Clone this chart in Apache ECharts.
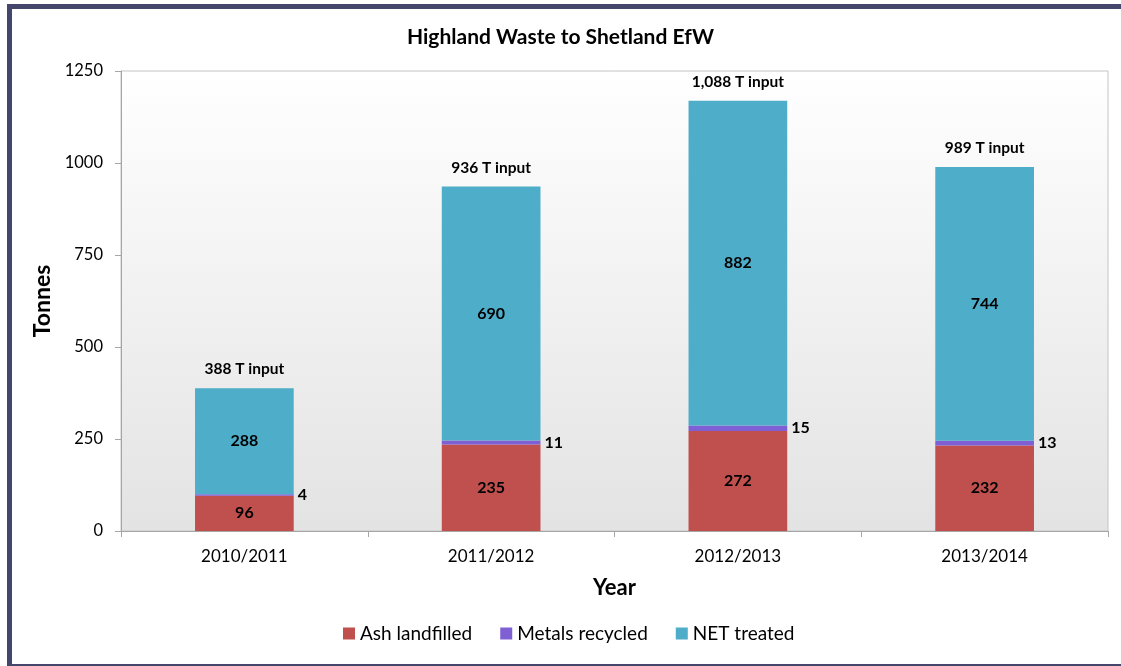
<!DOCTYPE html>
<html>
<head>
<meta charset="utf-8">
<script src="https://cdn.jsdelivr.net/npm/echarts@6/dist/echarts.min.js"></script>
<style>
  html, body { margin: 0; padding: 0; background: #fff; }
  #frame {
    position: absolute; left: 7px; top: 4px; width: 1114px; height: 662px;
    border-left: 5px solid #45466b; border-top: 5px solid #45466b;
    border-bottom: 2px solid #45466b; box-sizing: border-box;
  }
  #chart { position: absolute; left: 0; top: 0; width: 1121px; height: 666px; }
</style>
</head>
<body>
<div id="frame"></div>
<div id="chart"></div>
<script>
const years = ['2010/2011', '2011/2012', '2012/2013', '2013/2014']
const ashLandfilled = [96, 235, 272, 232]
const metalsRecycled = [4, 11, 15, 13]
const netTreated = [288, 690, 882, 744]
const inputLabels = ['388', '936', '1,088', '989']
const yTicks = { min: 0, max: 1250, interval: 250 }

const font = 'Lato'
const chart = echarts.init(document.getElementById('chart'))

const inside = {
  show: true,
  position: 'inside',
  color: '#000',
  fontFamily: font,
  fontWeight: 'bold',
  fontSize: 16
}

const option = {
  animation: false,
  textStyle: { fontFamily: font },
  title: {
    text: 'Highland Waste to Shetland EfW',
    left: 'center',
    top: 22,
    textStyle: { fontFamily: font, fontWeight: 'bold', fontSize: 21, color: '#000' }
  },
  legend: {
    bottom: 18,
    left: 338,
    itemWidth: 12,
    itemHeight: 12,
    itemGap: 28,
    icon: 'rect',
    data: ['Ash landfilled', 'Metals recycled', 'NET treated'],
    textStyle: { fontFamily: font, fontSize: 19, color: '#000' }
  },
  grid: {
    left: 121,
    right: 13,
    top: 71,
    bottom: 135,
    show: true,
    borderColor: '#c4c4c4',
    borderWidth: 1,
    backgroundColor: new echarts.graphic.LinearGradient(0, 0, 0, 1, [
      { offset: 0, color: '#ffffff' },
      { offset: 1, color: '#e3e3e3' }
    ])
  },
  xAxis: {
    type: 'category',
    data: years,
    name: 'Year',
    nameLocation: 'middle',
    nameGap: 46,
    nameTextStyle: { fontFamily: font, fontWeight: 'bold', fontSize: 22, color: '#000' },
    axisLine: { lineStyle: { color: '#a6a6a6' } },
    axisTick: { show: true, length: 6, lineStyle: { color: '#a6a6a6' } },
    axisLabel: { fontFamily: font, fontSize: 17, color: '#000', margin: 17 }
  },
  yAxis: {
    type: 'value',
    min: yTicks.min,
    max: yTicks.max,
    interval: yTicks.interval,
    name: 'Tonnes',
    nameLocation: 'middle',
    nameGap: 58,
    nameTextStyle: { fontFamily: font, fontWeight: 'bold', fontSize: 23, color: '#000' },
    axisLine: { show: true, lineStyle: { color: '#a6a6a6' } },
    axisTick: { show: true, length: 6, lineStyle: { color: '#a6a6a6' } },
    splitLine: { show: false },
    axisLabel: {
      fontFamily: font, fontSize: 16.5, color: '#000', margin: 18,
      formatter: v => String(v)
    }
  },
  series: [
    {
      name: 'Ash landfilled',
      type: 'bar',
      stack: 'total',
      barWidth: '40%',
      data: ashLandfilled,
      itemStyle: { color: '#c0504d' },
      label: inside
    },
    {
      name: 'Metals recycled',
      type: 'bar',
      stack: 'total',
      data: metalsRecycled,
      itemStyle: { color: '#7e5fd4' },
      label: { ...inside, position: 'right', distance: 4 }
    },
    {
      name: 'NET treated',
      type: 'bar',
      stack: 'total',
      data: netTreated,
      itemStyle: { color: '#4eadc8' },
      label: inside
    },
    {
      name: 'input',
      type: 'bar',
      stack: 'total',
      data: inputLabels.map(() => 0),
      itemStyle: { color: 'transparent' },
      label: {
        show: true,
        position: 'top',
        distance: 11,
        color: '#000',
        fontFamily: font,
        fontWeight: 'bold',
        fontSize: 15.5,
        formatter: p => inputLabels[p.dataIndex] + ' T input'
      }
    }
  ]
}

chart.setOption(option)
</script>
</body>
</html>
